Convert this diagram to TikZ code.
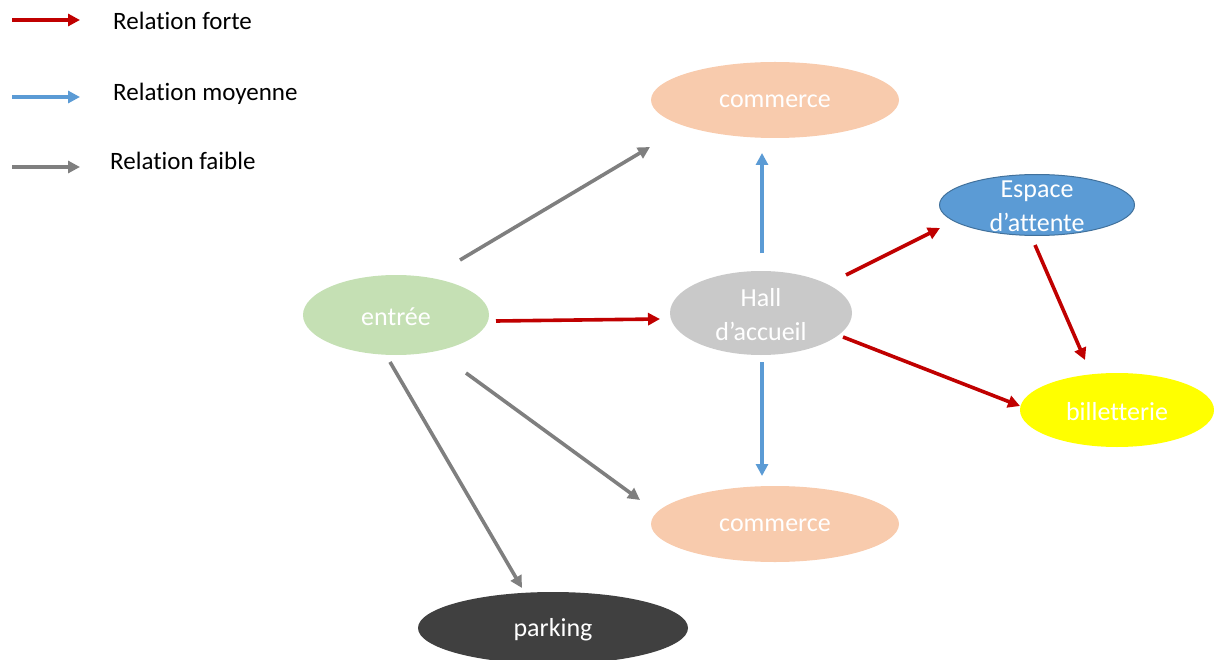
\documentclass[tikz,border=0pt]{standalone}
\usepackage{fontspec}
\setmainfont[Ligatures=NoCommon]{Carlito}
\usetikzlibrary{shapes.geometric,arrows.meta}
\definecolor{cred}{HTML}{C00000}
\definecolor{cblue}{HTML}{5B9BD5}
\definecolor{cgray}{HTML}{7F7F7F}
\definecolor{cgreen}{HTML}{C5E0B4}
\definecolor{cpeach}{HTML}{F8CBAD}
\definecolor{chall}{HTML}{C9C9C9}
\definecolor{cespb}{HTML}{41719C}
\definecolor{cyell}{HTML}{FFFF00}
\definecolor{cpark}{HTML}{404040}
\tikzset{
  ell/.style={ellipse, inner sep=0pt, draw=none},
  ntxt/.style={text=white, font=\fontsize{26}{34}\selectfont, align=center, yshift=-1.5pt},
  arr/.style={line width=3.6pt, -{Triangle[length=12pt,width=12pt]}},
  strong/.style={arr, draw=cred},
  medium/.style={arr, draw=cblue},
  weak/.style={arr, draw=cgray},
  legtxt/.style={anchor=base west, font=\fontsize{25}{30}\selectfont, inner sep=0pt}
}
\begin{document}
\begin{tikzpicture}[x=1pt,y=-1pt]
\useasboundingbox (0,0) rectangle (1214,660);
% legend
\coordinate (l1a) at (12,20); \coordinate (l1b) at (80,20);
\coordinate (l2a) at (12,97); \coordinate (l2b) at (80,97);
\coordinate (l3a) at (12,167); \coordinate (l3b) at (80,167);
\draw[strong] (l1a) -- (l1b);
\draw[medium] (l2a) -- (l2b);
\draw[weak] (l3a) -- (l3b);
\node[legtxt] (t1) at (113,30) {Relation forte};
\node[legtxt] (t2) at (113,101) {Relation moyenne};
\node[legtxt] (t3) at (110,170) {Relation faible};
% nodes
\node[ell, fill=cpeach, minimum width=248pt, minimum height=76pt, label={[ntxt]center:commerce}] (ct) at (775,100) {};
\node[ell, fill=cblue, draw=cespb, line width=1pt, minimum width=195pt, minimum height=61pt, label={[ntxt]center:Espace\\d’attente}] (esp) at (1037,205) {};
\node[ell, fill=chall, minimum width=182pt, minimum height=84pt, label={[ntxt]center:Hall\\d’accueil}] (hall) at (761,313) {};
\node[ell, fill=cgreen, minimum width=186pt, minimum height=80pt, label={[ntxt]center:entrée}] (entree) at (396,315) {};
\node[ell, fill=cyell, minimum width=194pt, minimum height=74pt, label={[ntxt]center:billetterie}] (bil) at (1117,410) {};
\node[ell, fill=cpeach, minimum width=248pt, minimum height=76pt, label={[ntxt]center:commerce}] (cb) at (775,524) {};
\node[ell, fill=cpark, minimum width=270pt, minimum height=72pt, label={[ntxt]center:parking}] (park) at (553,628) {};
% connectors
\draw[weak] ([shift={(64,-55)}]entree.center) -- ([shift={(-125,47)}]ct.center);
\draw[strong] ([shift={(100,6)}]entree.center) -- ([shift={(-101,6)}]hall.center);
\draw[weak] ([shift={(70,58)}]entree.center) -- ([shift={(-135,-24)}]cb.center);
\draw[weak] ([shift={(-6,47)}]entree.center) -- ([shift={(-31,-40)}]park.center);
\draw[medium] ([shift={(1,-60)}]hall.center) -- ([shift={(-13,53)}]ct.center);
\draw[medium] ([shift={(1,49)}]hall.center) -- ([shift={(-13,-48)}]cb.center);
\draw[strong] ([shift={(85,-38)}]hall.center) -- ([shift={(-97,23)}]esp.center);
\draw[strong] ([shift={(82,24)}]hall.center) -- ([shift={(-97,-4)}]bil.center);
\draw[strong] ([shift={(-2,40)}]esp.center) -- ([shift={(-32,-50)}]bil.center);
\end{tikzpicture}
\end{document}
